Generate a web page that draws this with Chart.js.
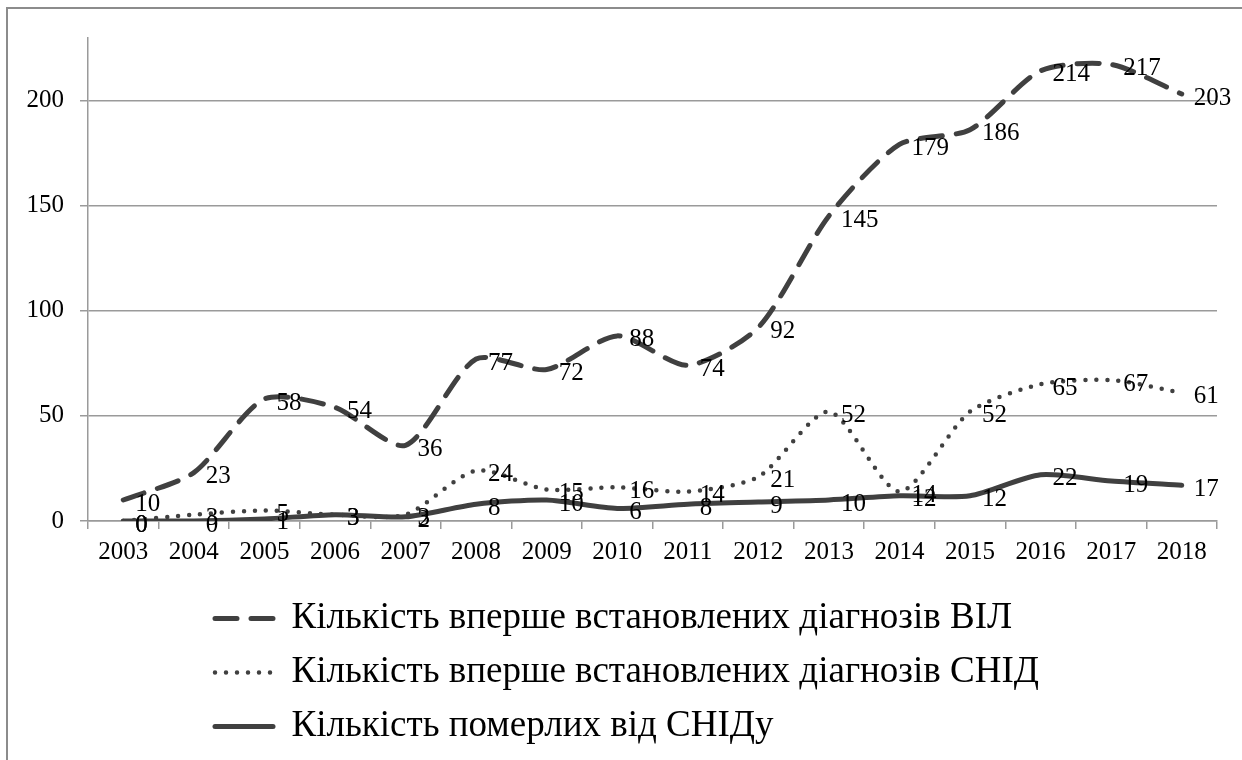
<!DOCTYPE html>
<html>
<head>
<meta charset="utf-8">
<script src="https://cdn.jsdelivr.net/npm/chart.js@4.4.0/dist/chart.umd.min.js"></script>
<style>
  html, body { margin: 0; padding: 0; background: #fff; }
  #wrap { width: 1242px; height: 760px; position: relative; }
</style>
</head>
<body>
<div id="wrap"><canvas id="myChart" width="1242" height="760"></canvas></div>
<script>
// Роки (вісь X)
var years = ['2003', '2004', '2005', '2006', '2007', '2008', '2009', '2010',
             '2011', '2012', '2013', '2014', '2015', '2016', '2017', '2018'];
// Кількість вперше встановлених діагнозів ВІЛ
var hivNew = [10, 23, 58, 54, 36, 77, 72, 88, 74, 92, 145, 179, 186, 214, 217, 203];
// Кількість вперше встановлених діагнозів СНІД
var aidsNew = [0, 3, 5, 3, 3, 24, 15, 16, 14, 21, 52, 14, 52, 65, 67, 61];
// Кількість померлих від СНІДу
var aidsDeaths = [0, 0, 1, 3, 2, 8, 10, 6, 8, 9, 10, 12, 12, 22, 19, 17];
// Назви рядів
var seriesNames = [
    'Кількість вперше встановлених діагнозів ВІЛ',
    'Кількість вперше встановлених діагнозів СНІД',
    'Кількість померлих від СНІДу'
];
// Поділки осі Y
var yTicks = [0, 50, 100, 150, 200];

var FONT = '"Liberation Serif", "Times New Roman", serif';
var LINE = '#404040';
var GRID = '#9a9a9a';

// рамка (тільки зліва і зверху, як на скріні)
var framePlugin = {
    id: 'frame',
    beforeDraw: function(chart) {
        var ctx = chart.ctx;
        ctx.save();
        ctx.strokeStyle = '#8c8c8c';
        ctx.lineWidth = 2;
        ctx.beginPath();
        ctx.moveTo(7, 760);
        ctx.lineTo(7, 8);
        ctx.lineTo(1242, 8);
        ctx.stroke();
        ctx.restore();
    }
};

// підписи значень праворуч від точки
var labelsPlugin = {
    id: 'valueLabels',
    afterDatasetsDraw: function(chart) {
        var ctx = chart.ctx;
        ctx.save();
        ctx.font = '25px ' + FONT;
        ctx.fillStyle = '#000';
        ctx.textAlign = 'left';
        ctx.textBaseline = 'middle';
        chart.data.datasets.forEach(function(ds, i) {
            var meta = chart.getDatasetMeta(i);
            meta.data.forEach(function(pt, j) {
                ctx.fillText(String(ds.data[j]), pt.x + 12, pt.y + 4);
            });
        });
        ctx.restore();
    }
};

// легенда вирівняна по лівому краю
var legendShift = {
    id: 'legendShift',
    afterLayout: function(chart) {
        var lg = chart.legend;
        var dx = 215 - 17 - lg.left;
        lg.left += dx;
        lg.right += dx;
    }
};

var ctx = document.getElementById('myChart').getContext('2d');
var chart = new Chart(ctx, {
    type: 'line',
    data: {
        labels: years,
        datasets: [{
            label: seriesNames[0],
            data: hivNew,
            borderColor: LINE,
            backgroundColor: LINE,
            borderWidth: 5,
            borderDash: [22, 14],
            borderCapStyle: 'round',
            pointRadius: 0,
            tension: 0.25
        }, {
            label: seriesNames[1],
            data: aidsNew,
            borderColor: LINE,
            backgroundColor: LINE,
            borderWidth: 4.5,
            borderDash: [0, 11],
            borderCapStyle: 'round',
            pointRadius: 0,
            tension: 0.25
        }, {
            label: seriesNames[2],
            data: aidsDeaths,
            borderColor: LINE,
            backgroundColor: LINE,
            borderWidth: 5,
            borderCapStyle: 'round',
            pointRadius: 0,
            tension: 0.25
        }]
    },
    options: {
        responsive: false,
        animation: false,
        layout: { padding: { top: 38, left: 0, right: 25, bottom: 5 } },
        scales: {
            x: {
                offset: true,
                grid: { display: true, drawOnChartArea: false, offset: true, color: GRID, lineWidth: 1.5, tickLength: 8 },
                border: { color: GRID, width: 1.5 },
                ticks: { color: '#000', font: { family: FONT, size: 25 }, maxRotation: 0, padding: 8 },
                afterFit: function(s) { s.height = 62; }
            },
            y: {
                min: 0,
                max: 229.6,
                grid: { color: GRID, lineWidth: 1.5, tickLength: 8 },
                border: { color: GRID, width: 1.5 },
                ticks: { color: '#000', font: { family: FONT, size: 25 }, stepSize: 50, padding: 16 },
                afterBuildTicks: function(s) {
                    s.ticks = yTicks.map(function(v) { return { value: v }; });
                },
                afterFit: function(s) { s.width = 88; }
            }
        },
        plugins: {
            tooltip: { enabled: false },
            legend: {
                display: true,
                position: 'bottom',
                align: 'start',
                labels: {
                    color: '#000',
                    font: { family: FONT, size: 37 },
                    usePointStyle: true,
                    pointStyle: 'line',
                    pointStyleWidth: 58,
                    padding: 17,
                    generateLabels: function(chart) {
                        return chart.data.datasets.map(function(ds, i) {
                            return {
                                text: ds.label,
                                strokeStyle: LINE,
                                fillStyle: LINE,
                                lineWidth: ds.borderWidth,
                                lineDash: ds.borderDash || [],
                                lineCap: 'round',
                                pointStyle: 'line',
                                datasetIndex: i
                            };
                        });
                    }
                }
            }
        }
    },
    plugins: [framePlugin, labelsPlugin, legendShift]
});
</script>
</body>
</html>
